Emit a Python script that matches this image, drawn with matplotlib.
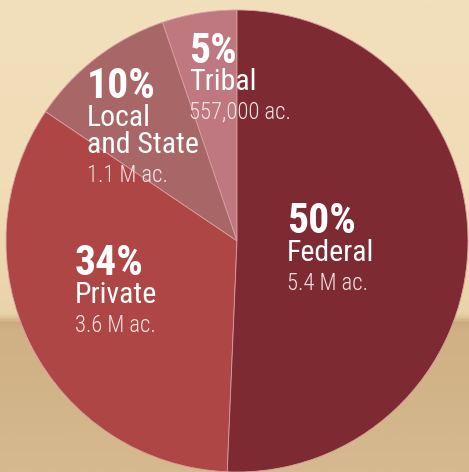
import numpy as np
import matplotlib
matplotlib.use("Agg")
import matplotlib.pyplot as plt
from matplotlib.colors import LinearSegmentedColormap
from matplotlib import font_manager

# land ownership, millions of acres
labels = ["Tribal", "Local\nand State", "Private", "Federal"]
acres = [0.557, 1.1, 3.6, 5.4]
pcts = ["5%", "10%", "34%", "50%"]
acre_text = ["557,000 ac.", "1.1 M ac.", "3.6 M ac.", "5.4 M ac."]
colors = ["#C07880", "#A96667", "#AE4646", "#7D2A33"]

W, H = 469, 472
fig = plt.figure(figsize=(W / 100, H / 100), dpi=100)

# background: pale beige sky over a tan ground
bg = fig.add_axes([0, 0, 1, 1])
bg.set_axis_off()
stops = [(0.0, "#D6B98F"), (0.30, "#D0B085"), (0.315, "#CBAA7F"),
         (0.335, "#EAD3AA"), (0.6, "#F0DCB6"), (1.0, "#F2DFBC")]
cmap = LinearSegmentedColormap.from_list("bg", stops)
grad = np.linspace(0, 1, 400).reshape(-1, 1)
bg.imshow(grad, aspect="auto", cmap=cmap, origin="lower", extent=[0, 1, 0, 1])
bg.set_xlim(0, 1)
bg.set_ylim(0, 1)

ax = fig.add_axes([0, 0, 1, 1])
ax.set_axis_off()
ax.patch.set_alpha(0)
ax.pie(acres, colors=colors, startangle=90, counterclock=True,
       center=(237, H - 241), radius=231, frame=True,
       wedgeprops=dict(edgecolor="#D9A0A0", linewidth=0.6))
ax.set_xlim(0, W)
ax.set_ylim(0, H)
ax.set_aspect("equal")
ax.set_axis_off()

# narrowest installed face available
installed = {f.name for f in font_manager.fontManager.ttflist}
font = [f for f in ["Liberation Sans Narrow", "Roboto Condensed", "Roboto"]
        if f in installed] + ["DejaVu Sans"]

# (x, baseline of pct, baseline of each name line, baseline of acreage)
spots = [
    (189, 63, [90], 119),
    (87, 98, [126, 153], 182),
    (75, 275, [303], 332),
    (287, 233, [261], 290),
]

for (x, yp, ylines, ya), p, name, a in zip(spots, pcts, labels, acre_text):
    ax.text(x, H - yp, p, family=font, fontsize=30, fontweight="bold",
            color="white", ha="left", va="baseline")
    for yl, line in zip(ylines, name.split("\n")):
        ax.text(x, H - yl, line, family=font, fontsize=21.5,
                color="white", ha="left", va="baseline")
    ax.text(x, H - ya, a, family=font, fontsize=16.3, fontweight="light",
            color="#F5E6E6", ha="left", va="baseline")

fig.savefig("out.png", dpi=100)
